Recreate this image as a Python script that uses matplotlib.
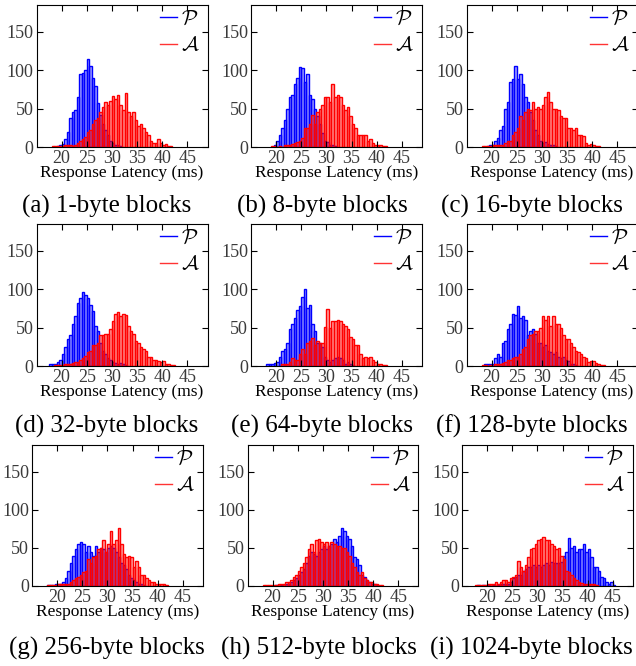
import numpy as np
import matplotlib
matplotlib.use('Agg')
import matplotlib.pyplot as plt
from matplotlib.lines import Line2D

plt.rcParams['font.family'] = ['Liberation Serif', 'DejaVu Serif']
plt.rcParams['mathtext.fontset'] = 'cm'

BIN = 0.5

# block sizes, one panel each
letters = ['a', 'b', 'c', 'd', 'e', 'f', 'g', 'h', 'i']
blocks = ['1', '8', '16', '32', '64', '128', '256', '512', '1024']

# counts per 0.5 ms bin, P = present, A = absent; *_start = left edge of first bin (ms)
pa_start = 19.0
pa = [1, 3, 4, 10, 20, 38, 45, 48, 65, 95, 97, 100, 115, 105, 90, 80, 57, 42, 30, 22, 15, 8, 5, 3, 2, 1]
aa_start = 18.0
aa = [1, 1, 1, 1, 1, 2, 2, 2, 1, 3, 5, 8, 10, 13, 20, 22, 30, 35, 38, 45, 52, 58, 55, 60, 66, 62, 68, 55,
      48, 70, 45, 40, 45, 35, 28, 30, 25, 20, 15, 8, 5, 5, 10, 5, 2, 4, 1, 1]

pb_start = 19.5
pb = [3, 8, 15, 25, 35, 50, 65, 68, 82, 90, 104, 103, 85, 95, 68, 63, 50, 40, 30, 18, 8, 6, 3, 2, 1]
ab_start = 19.0
ab = [1, 1, 0, 1, 0, 2, 2, 3, 4, 5, 6, 8, 12, 25, 25, 30, 42, 30, 45, 50, 55, 65, 65, 58, 82, 65, 68, 65,
      55, 48, 52, 40, 30, 25, 15, 15, 15, 15, 8, 10, 5, 3, 2, 3, 1, 1]

pc_start = 19.0
pc = [1, 2, 3, 8, 12, 22, 28, 50, 58, 85, 88, 105, 88, 95, 82, 65, 58, 45, 35, 22, 15, 8, 5, 6, 4, 3, 2, 1]
ac_start = 18.0
ac = [1, 1, 1, 1, 2, 2, 3, 3, 2, 5, 8, 8, 15, 20, 25, 40, 35, 45, 50, 48, 58, 50, 52, 50, 55, 65, 72, 58,
      50, 50, 48, 40, 38, 38, 25, 25, 22, 25, 15, 15, 14, 5, 2, 4, 2, 1, 1]

pd_start = 17.5
pd_ = [3, 3, 2, 5, 8, 15, 25, 35, 40, 55, 65, 82, 88, 97, 92, 88, 80, 72, 52, 45, 30, 20, 15, 10, 8, 5, 4,
       3, 4, 2, 1]
ad_start = 18.5
ad = [1, 1, 1, 1, 2, 2, 3, 4, 5, 5, 8, 10, 13, 18, 20, 28, 28, 30, 40, 40, 42, 42, 48, 58, 68, 70, 65, 68,
      66, 52, 45, 42, 32, 30, 25, 22, 20, 12, 12, 8, 8, 7, 5, 6, 2, 2, 1, 1]

pe_start = 18.0
pe = [2, 2, 3, 4, 5, 12, 20, 22, 30, 48, 55, 63, 73, 78, 90, 100, 75, 80, 55, 45, 30, 30, 25, 12, 8, 5, 8,
      10, 12, 10, 8, 3, 5, 2, 1]
ae_start = 21.0
ae = [2, 3, 3, 5, 10, 8, 8, 15, 22, 15, 30, 32, 37, 27, 33, 30, 30, 51, 74, 50, 58, 58, 60, 58, 55, 52, 48,
      38, 35, 28, 28, 15, 10, 12, 10, 12, 8, 5, 3, 2, 1, 1]

pf_start = 18.5
pf = [2, 2, 3, 3, 10, 15, 12, 30, 32, 48, 55, 68, 66, 78, 62, 65, 60, 40, 45, 48, 42, 30, 30, 25, 28, 20,
      18, 15, 18, 12, 10, 12, 8, 6, 3, 2, 1]
af_start = 18.0
af = [1, 1, 0, 1, 0, 2, 2, 3, 4, 5, 8, 8, 10, 12, 12, 15, 22, 25, 35, 40, 42, 45, 45, 50, 65, 60, 65, 52,
      65, 55, 55, 50, 40, 35, 35, 30, 25, 20, 18, 15, 12, 10, 5, 6, 6, 4, 2, 1, 1]

pg_start = 18.0
pg = [1, 1, 1, 2, 3, 3, 5, 10, 20, 30, 40, 48, 55, 58, 55, 45, 52, 45, 40, 53, 45, 50, 48, 45, 50, 52, 50,
      45, 38, 30, 28, 22, 15, 10, 8, 5, 3, 2, 1]
ag_start = 18.0
ag = [1, 1, 1, 1, 2, 2, 2, 3, 3, 5, 8, 10, 12, 15, 18, 20, 35, 30, 38, 40, 48, 50, 60, 45, 55, 72, 55, 60,
      76, 55, 42, 38, 40, 38, 25, 33, 25, 15, 15, 10, 8, 5, 5, 3, 2, 2, 2, 1]

ph_start = 20.5
ph = [1, 0, 1, 0, 2, 3, 5, 8, 10, 15, 18, 22, 30, 40, 45, 42, 40, 45, 48, 52, 48, 52, 55, 62, 58, 65, 76,
      72, 65, 62, 52, 38, 35, 28, 15, 12, 8, 5, 3, 2, 1]
ah_start = 18.0
ah = [1, 1, 1, 1, 1, 1, 2, 2, 3, 5, 5, 8, 12, 15, 20, 25, 30, 38, 48, 55, 45, 60, 62, 58, 55, 58, 52, 58,
      55, 52, 52, 50, 50, 45, 40, 30, 25, 18, 15, 18, 10, 8, 5, 5, 3, 2, 1, 1]

pi_start = 18.0
pi = [1, 0, 1, 0, 1, 0, 1, 0, 1, 2, 2, 2, 3, 5, 10, 12, 15, 15, 20, 22, 25, 25, 28, 25, 28, 25, 28, 30, 28,
      32, 30, 30, 30, 32, 40, 45, 63, 50, 52, 45, 48, 48, 55, 45, 48, 38, 25, 25, 20, 12, 10, 5, 3, 5, 1]
ai_start = 17.5
ai = [1, 1, 1, 1, 1, 2, 2, 2, 5, 3, 5, 8, 8, 5, 10, 12, 15, 33, 25, 20, 28, 38, 48, 50, 55, 60, 62, 64, 60,
      60, 55, 52, 48, 50, 40, 35, 20, 18, 15, 10, 8, 5, 4, 3, 3, 2, 3, 2, 1]

present = [(pa_start, pa), (pb_start, pb), (pc_start, pc), (pd_start, pd_), (pe_start, pe),
           (pf_start, pf), (pg_start, pg), (ph_start, ph), (pi_start, pi)]
absent = [(aa_start, aa), (ab_start, ab), (ac_start, ac), (ad_start, ad), (ae_start, ae),
          (af_start, af), (ag_start, ag), (ah_start, ah), (ai_start, ai)]

W, H = 636, 666
fig = plt.figure(figsize=(W / 100, H / 100), dpi=100)

# axes boxes in pixels
col_left = [[36.5, 251, 466.5], [36.5, 251, 466.5], [32, 247.5, 462]]
row_top = [5, 224, 445]
row_bot = [147, 366, 586]
ax_w = 171
cap_x = [[107, 322, 532], [107, 322, 532], [107, 319, 531]]
cap_y = [206, 426, 648]


def draw_hist(ax, start, counts, col):
    edges = start + BIN * np.arange(len(counts))
    ax.bar(edges, counts, width=BIN, align='edge', facecolor=col, alpha=0.38,
           edgecolor='none')
    ax.bar(edges, counts, width=BIN, align='edge', facecolor='none',
           edgecolor=col, linewidth=1.0)


for k in range(9):
    r, c = divmod(k, 3)
    l = col_left[r][c]
    ax = fig.add_axes([l / W, 1 - row_bot[r] / H, ax_w / W, (row_bot[r] - row_top[r]) / H])
    draw_hist(ax, present[k][0], present[k][1], 'blue')
    draw_hist(ax, absent[k][0], absent[k][1], 'red')
    ax.set_xlim(15, 49)
    ax.set_ylim(0, 185)
    ax.set_xticks([20, 25, 30, 35, 40, 45])
    ax.set_yticks([0, 50, 100, 150])
    ax.tick_params(direction='in', top=True, right=True, length=4, width=0.8,
                   labelsize=13, labelcolor='#3a3a3a', pad=2)
    ax.set_xlabel('Response Latency (ms)', fontsize=12.5, labelpad=-1)
    handles = [Line2D([], [], color='blue', lw=1), Line2D([], [], color='#ff3333', lw=1)]
    ax.legend(handles, [r'$\mathcal{P}$', r'$\mathcal{A}$'], loc='upper right', frameon=False,
              fontsize=15, handlelength=0.8, handletextpad=0.2, labelspacing=0.35,
              bbox_to_anchor=(1 - 8 / ax_w, 1 - 5 / 142), borderaxespad=0, borderpad=0)
    fig.text(cap_x[r][c] / W, 1 - cap_y[r] / H, '(%s) %s-byte blocks' % (letters[k], blocks[k]),
             ha='center', va='center', fontsize=18)

fig.savefig('out.png', dpi=100)
